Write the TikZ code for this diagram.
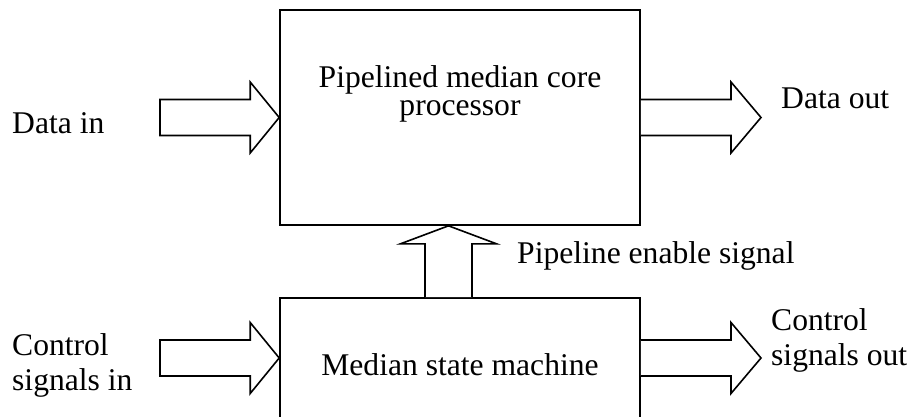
\documentclass[tikz,border=0pt]{standalone}
\usepackage{fontspec}
\setmainfont{Liberation Serif}
\usetikzlibrary{calc}

\tikzset{
  blk/.style={draw=black, line width=1.6pt, fill=white, inner sep=0pt},
  fatarrow/.style={draw=black, line width=1.6pt, fill=white, line join=miter},
  lbl/.style={inner sep=0pt, font=\fontsize{31.6}{35}\selectfont}
}

\begin{document}
\begin{tikzpicture}[x=1pt, y=-1pt]
  \useasboundingbox (0,0) rectangle (922,416);

  % the two blocks
  \node[blk, minimum width=360pt, minimum height=215pt] (core) at (460,117.5) {};
  \node[blk, minimum width=360pt, minimum height=120pt] (fsm) at (460,358) {};

  % block captions
  \node[lbl, anchor=base] (coretxtA) at (460,87)  {Pipelined median core};
  \node[lbl, anchor=base] (coretxtB) at (460,115) {processor};
  \node[lbl, anchor=base] (fsmtxt) at (460,375) {Median state machine};

  % outer labels
  \node[lbl, anchor=base west] (din)  at (12,133)  {Data in};
  \node[lbl, anchor=base west] (dout) at (781,108) {Data out};
  \node[lbl, anchor=base west] (cinA) at (12,355)  {Control};
  \node[lbl, anchor=base west] (cinB) at (12,390)  {signals in};
  \node[lbl, anchor=base west] (coutA) at (771,330) {Control};
  \node[lbl, anchor=base west] (coutB) at (771,365) {signals out};
  \node[lbl, anchor=base west] (pen) at (517,263) {Pipeline enable signal};

  % arrow end points
  \coordinate (dinTail)  at (160,117.5);
  \coordinate (doutTip)  at (761,117.5);
  \coordinate (cinTail)  at (160,358);
  \coordinate (coutTip)  at (761,358);
  \coordinate (upTail)   at ($(fsm.north)+(-11.5,0)$);
  \coordinate (upTip)    at (upTail |- core.south);

  % data in -> core
  \draw[fatarrow] ($(dinTail)+(0,-18)$) -- ($(core.west)+(-29,-18)$)
    -- ($(core.west)+(-29,-35.5)$) -- (core.west) -- ($(core.west)+(-29,35.5)$)
    -- ($(core.west)+(-29,18)$) -- ($(dinTail)+(0,18)$) -- cycle;

  % core -> data out
  \draw[fatarrow] ($(core.east)+(0,-18)$) -- ($(doutTip)+(-30,-18)$)
    -- ($(doutTip)+(-30,-35.5)$) -- (doutTip) -- ($(doutTip)+(-30,35.5)$)
    -- ($(doutTip)+(-30,18)$) -- ($(core.east)+(0,18)$);

  % control signals in -> state machine
  \draw[fatarrow] ($(cinTail)+(0,-18)$) -- ($(fsm.west)+(-29,-18)$)
    -- ($(fsm.west)+(-29,-35.5)$) -- (fsm.west) -- ($(fsm.west)+(-29,35.5)$)
    -- ($(fsm.west)+(-29,18)$) -- ($(cinTail)+(0,18)$) -- cycle;

  % state machine -> control signals out
  \draw[fatarrow] ($(fsm.east)+(0,-18)$) -- ($(coutTip)+(-30,-18)$)
    -- ($(coutTip)+(-30,-35.5)$) -- (coutTip) -- ($(coutTip)+(-30,35.5)$)
    -- ($(coutTip)+(-30,18)$) -- ($(fsm.east)+(0,18)$);

  % pipeline enable: state machine -> core
  \draw[fatarrow] ($(upTail)+(-23.5,0)$) -- ($(upTip)+(-23.5,18)$)
    -- ($(upTip)+(-48,18)$) -- (upTip) -- ($(upTip)+(48,18)$)
    -- ($(upTip)+(23.5,18)$) -- ($(upTail)+(23.5,0)$);
\end{tikzpicture}
\end{document}
